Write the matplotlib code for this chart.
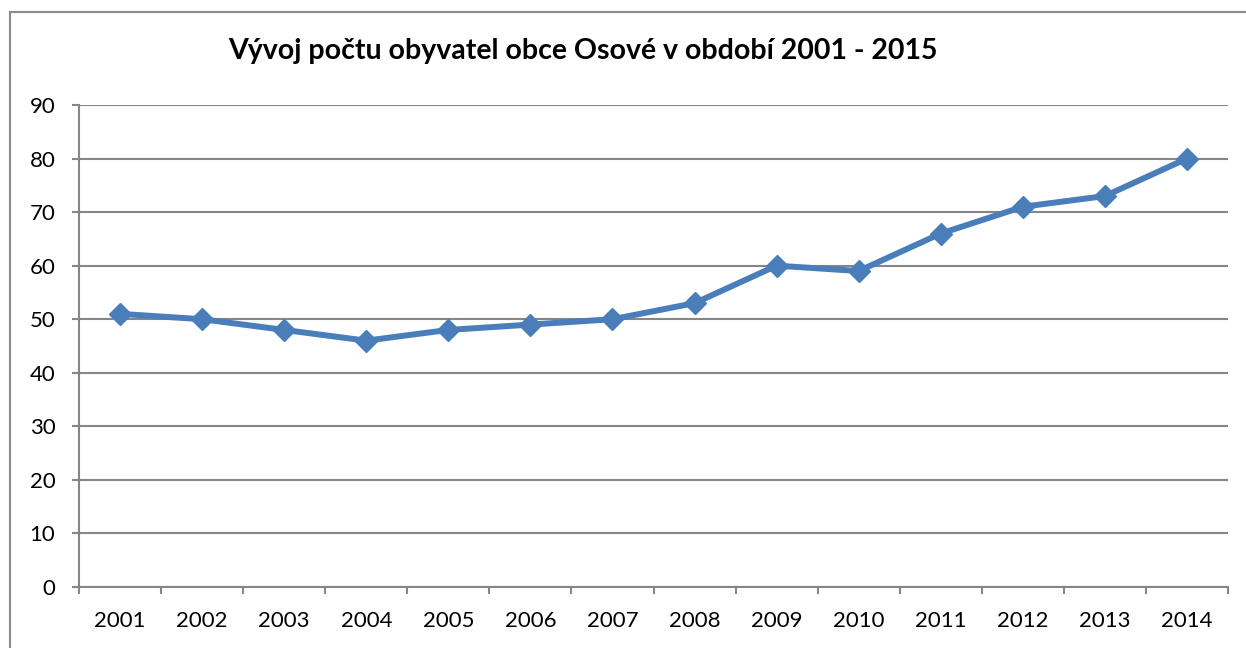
import matplotlib.pyplot as plt
from matplotlib.patches import Rectangle
import numpy as np

# Data
roky = ['2001', '2002', '2003', '2004', '2005', '2006', '2007',
        '2008', '2009', '2010', '2011', '2012', '2013', '2014']
obyvatele = [51, 50, 48, 46, 48, 49, 50, 53, 60, 59, 66, 71, 73, 80]
y_ticks = [0, 10, 20, 30, 40, 50, 60, 70, 80, 90]

plt.rcParams['font.family'] = ['Lato', 'DejaVu Sans']

W, H = 1246, 648
fig = plt.figure(figsize=(W / 100, H / 100), dpi=100)

# chart border (runs off the right and bottom edge like in the original)
fig.patches.append(Rectangle((10 / W, -0.1), 1.2, 1 - 12 / H + 0.1,
                             transform=fig.transFigure, fill=False,
                             edgecolor='#8c8c8c', linewidth=1.5))

ax = fig.add_axes([79 / W, 1 - 587 / H, (1228 - 79) / W, (587 - 105) / H])

x = np.arange(len(roky))
ax.plot(x, obyvatele, color='#4A7EBB', linewidth=4.3, marker='D',
        markersize=11, zorder=3)

ax.set_xlim(-0.5, len(roky) - 0.5)
ax.set_ylim(0, 90)
ax.set_yticks(y_ticks)
ax.set_xticks(x)
ax.set_xticklabels(roky)
ax.set_xticks(np.arange(len(roky) + 1) - 0.5, minor=True)

ax.yaxis.grid(True, color='#868686', linewidth=1.5)
ax.set_axisbelow(True)

for s in ['top', 'right']:
    ax.spines[s].set_visible(False)
for s in ['left', 'bottom']:
    ax.spines[s].set_color('#868686')
    ax.spines[s].set_linewidth(1.5)

ax.tick_params(axis='y', length=5, width=1.5, color='#868686',
               labelsize=16, pad=12)
ax.tick_params(axis='x', which='major', length=0, labelsize=16, pad=17)
ax.tick_params(axis='x', which='minor', length=5, width=1.5, color='#868686')

fig.text(583 / W, 1 - 51 / H, 'Vývoj počtu obyvatel obce Osové v období 2001 - 2015',
         ha='center', va='center', fontsize=20.5, fontweight='bold')

fig.savefig('out.png', dpi=100)
